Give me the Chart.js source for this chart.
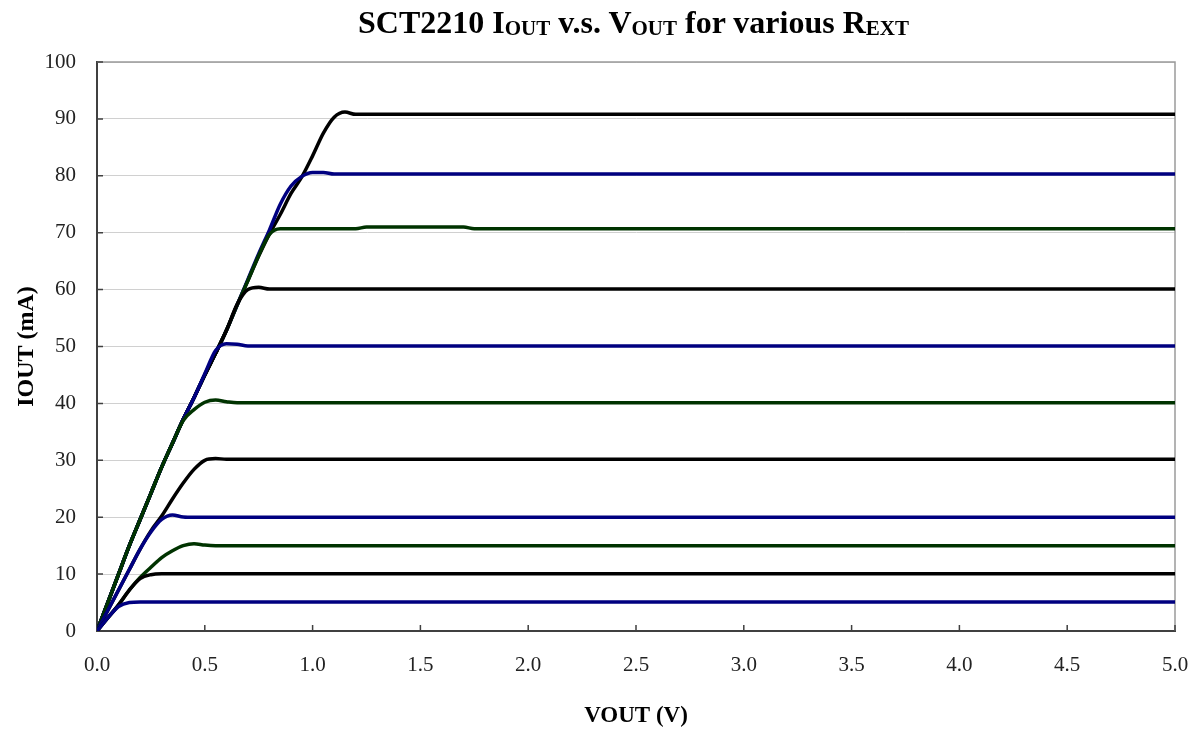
<!DOCTYPE html>
<html>
<head>
<meta charset="utf-8">
<script src="https://cdn.jsdelivr.net/npm/chart.js@4"></script>
<style>
  body { margin: 0; background: #fff; }
  #wrap { position: relative; width: 1195px; height: 733px; }
  #title {
    position: absolute; left: 0; width: 1267px; top: 4px; text-align: center;
    font: bold 32px "Liberation Serif", "Times New Roman", serif; color: #000;
  }
  #title span { font-size: 21px; vertical-align: -2px; }
</style>
</head>
<body>
<div id="wrap">
  <canvas id="chart" width="1195" height="733"></canvas>
  <div id="title">SCT2210 I<span>OUT</span> v.s. V<span>OUT</span> for various R<span>EXT</span></div>
</div>
<script>
// VOUT sample points (V)
const vout = [0, 0.05, 0.1, 0.15, 0.2, 0.25, 0.3, 0.35, 0.4, 0.45, 0.5, 0.55, 0.6, 0.65, 0.7,
              0.75, 0.8, 0.85, 0.9, 0.95, 1.0, 1.05, 1.1, 1.15, 1.2, 1.25, 1.7, 1.75, 5.0];

// IOUT (mA) for each REXT setting
const i5  = [0, 2.3, 4.3, 5.0, 5.1, 5.1, 5.1, 5.1, 5.1, 5.1, 5.1, 5.1, 5.1, 5.1, 5.1,
             5.1, 5.1, 5.1, 5.1, 5.1, 5.1, 5.1, 5.1, 5.1, 5.1, 5.1, 5.1, 5.1, 5.1];
const i10 = [0, 2.3, 4.6, 7.2, 9.2, 9.9, 10.05, 10.05, 10.05, 10.05, 10.05, 10.05, 10.05, 10.05, 10.05,
             10.05, 10.05, 10.05, 10.05, 10.05, 10.05, 10.05, 10.05, 10.05, 10.05, 10.05, 10.05, 10.05, 10.05];
const i15 = [0, 2.3, 4.6, 7.2, 9.4, 11.2, 12.9, 14.1, 15.0, 15.35, 15.1, 15.0, 15.0, 15.0, 15.0,
             15.0, 15.0, 15.0, 15.0, 15.0, 15.0, 15.0, 15.0, 15.0, 15.0, 15.0, 15.0, 15.0, 15.0];
const i20 = [0, 3.6, 7.2, 10.8, 14.4, 17.4, 19.6, 20.4, 20.05, 20.0, 20.0, 20.0, 20.0, 20.0, 20.0,
             20.0, 20.0, 20.0, 20.0, 20.0, 20.0, 20.0, 20.0, 20.0, 20.0, 20.0, 20.0, 20.0, 20.0];
const i30 = [0, 3.6, 7.2, 10.8, 14.4, 17.6, 20.2, 23.2, 26.0, 28.4, 30.0, 30.3, 30.2, 30.2, 30.2,
             30.2, 30.2, 30.2, 30.2, 30.2, 30.2, 30.2, 30.2, 30.2, 30.2, 30.2, 30.2, 30.2, 30.2];
const i40 = [0, 5.0, 10.0, 15.0, 19.6, 24.2, 28.8, 33.0, 37.0, 38.9, 40.2, 40.6, 40.3, 40.1, 40.1,
             40.1, 40.1, 40.1, 40.1, 40.1, 40.1, 40.1, 40.1, 40.1, 40.1, 40.1, 40.1, 40.1, 40.1];
const i50 = [0, 5.0, 10.0, 15.0, 19.6, 24.2, 28.8, 33.0, 37.2, 41.0, 45.2, 49.3, 50.5, 50.4, 50.1,
             50.1, 50.1, 50.1, 50.1, 50.1, 50.1, 50.1, 50.1, 50.1, 50.1, 50.1, 50.1, 50.1, 50.1];
const i60 = [0, 5.0, 10.0, 15.0, 19.6, 24.2, 28.8, 33.0, 37.2, 41.0, 45.0, 48.8, 52.8, 57.4, 60.0,
             60.4, 60.1, 60.1, 60.1, 60.1, 60.1, 60.1, 60.1, 60.1, 60.1, 60.1, 60.1, 60.1, 60.1];
const i70 = [0, 5.0, 10.0, 15.0, 19.6, 24.2, 28.8, 33.0, 37.2, 41.0, 45.0, 48.8, 52.8, 57.3, 61.6,
             66.0, 69.7, 70.7, 70.7, 70.7, 70.7, 70.7, 70.7, 70.7, 70.7, 71.0, 71.0, 70.7, 70.7];
const i80 = [0, 5.0, 10.0, 15.0, 19.6, 24.2, 28.8, 33.0, 37.2, 41.0, 45.0, 48.8, 52.8, 57.3, 61.8,
             66.3, 70.5, 75.0, 78.2, 79.9, 80.6, 80.6, 80.3, 80.3, 80.3, 80.3, 80.3, 80.3, 80.3];
const i90 = [0, 5.0, 10.0, 15.0, 19.6, 24.2, 28.8, 33.0, 37.2, 41.0, 45.0, 48.8, 52.8, 57.3, 61.6,
             65.9, 69.8, 73.2, 76.9, 79.8, 83.5, 87.5, 90.3, 91.2, 90.8, 90.8, 90.8, 90.8, 90.8];

const yTicks = [0, 10, 20, 30, 40, 50, 60, 70, 80, 90, 100];
const xTicks = [0, 0.5, 1.0, 1.5, 2.0, 2.5, 3.0, 3.5, 4.0, 4.5, 5.0];

const BLUE = '#000080', BLACK = '#000000', GREEN = '#003300';
const series = [
  [i5, BLUE], [i10, BLACK], [i15, GREEN], [i20, BLUE], [i30, BLACK], [i40, GREEN],
  [i50, BLUE], [i60, BLACK], [i70, GREEN], [i80, BLUE], [i90, BLACK]
];

const serif = '"Liberation Serif", "Times New Roman", serif';

// grey top/right frame and inward tick marks
const frame = {
  id: 'frame',
  beforeDatasetsDraw(chart) {
    const { ctx, chartArea: a, scales: { x, y } } = chart;
    ctx.save();
    ctx.strokeStyle = '#9a9a9a';
    ctx.lineWidth = 1.5;
    ctx.beginPath();
    ctx.moveTo(a.left, a.top);
    ctx.lineTo(a.right, a.top);
    ctx.lineTo(a.right, a.bottom);
    ctx.stroke();
    ctx.strokeStyle = '#404040';
    ctx.lineWidth = 1.5;
    ctx.beginPath();
    xTicks.forEach(v => {
      const px = x.getPixelForValue(v);
      ctx.moveTo(px, a.bottom);
      ctx.lineTo(px, a.bottom - 6);
    });
    yTicks.forEach(v => {
      const py = y.getPixelForValue(v);
      ctx.moveTo(a.left, py);
      ctx.lineTo(a.left + 6, py);
    });
    ctx.stroke();
    ctx.restore();
  }
};

new Chart(document.getElementById('chart'), {
  type: 'scatter',
  data: {
    datasets: series.map(([vals, color]) => ({
      data: vout.map((v, k) => ({ x: v, y: vals[k] })),
      showLine: true,
      borderColor: color,
      backgroundColor: color,
      borderWidth: 3.5,
      pointRadius: 0,
      cubicInterpolationMode: 'monotone'
    }))
  },
  options: {
    responsive: false,
    animation: false,
    layout: { padding: { top: 62, right: 20, left: 0, bottom: 0 } },
    plugins: { legend: { display: false }, tooltip: { enabled: false } },
    scales: {
      x: {
        type: 'linear',
        min: 0, max: 5,
        afterFit(s) { s.height = 102; },
        afterBuildTicks(s) { s.ticks = xTicks.map(v => ({ value: v })); },
        grid: { display: false, drawTicks: true, tickLength: 22 },
        border: { display: true, color: '#404040', width: 2 },
        ticks: {
          padding: 0, color: '#222',
          font: { family: serif, size: 21 },
          callback: v => v.toFixed(1)
        },
        title: {
          display: true, text: 'VOUT (V)', color: '#000',
          font: { family: serif, size: 23, weight: 'bold' },
          padding: { top: 0, bottom: 3 }
        }
      },
      y: {
        type: 'linear',
        min: 0, max: 100,
        afterFit(s) { s.width = 97; },
        afterBuildTicks(s) { s.ticks = yTicks.map(v => ({ value: v })); },
        grid: { color: '#d0d0d0', lineWidth: 1, drawTicks: false },
        border: { display: true, color: '#404040', width: 2 },
        ticks: {
          padding: 21, color: '#222',
          font: { family: serif, size: 21 }
        },
        title: {
          display: true, text: 'IOUT (mA)', color: '#000',
          font: { family: serif, size: 24, weight: 'bold' },
          padding: { top: 12, bottom: 0 }
        }
      }
    }
  },
  plugins: [frame]
});
</script>
</body>
</html>
